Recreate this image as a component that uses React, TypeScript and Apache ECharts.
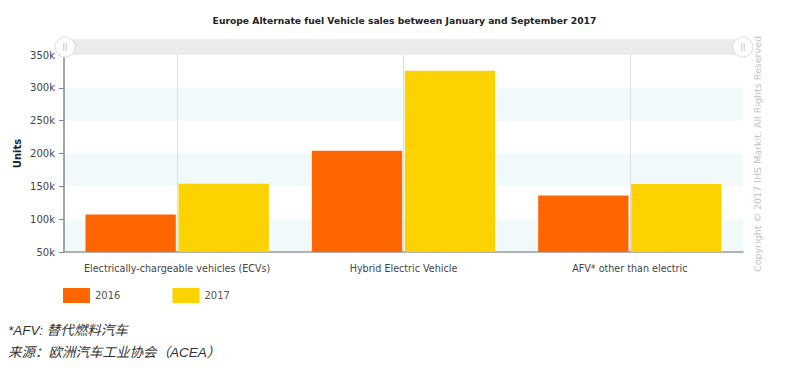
import React, { useEffect, useRef } from "react";
import * as echarts from "echarts";

const titleText = "Europe Alternate fuel Vehicle sales between January and September 2017";
const categories = [
  "Electrically-chargeable vehicles (ECVs)",
  "Hybrid Electric Vehicle",
  "AFV* other than electric",
];
const seriesNames = ["2016", "2017"];
const values2016 = [107000, 204000, 136000];
const values2017 = [154000, 326000, 153500];
const yMin = 50000;
const yMax = 350000;
const yStep = 50000;
const footnotes = ["*AFV: 替代燃料汽车", "来源：欧洲汽车工业协会（ACEA）"];
const copyright = "Copyright © 2017 IHS Markit. All Rights Reserved";

const chartFont = "'DejaVu Sans', Verdana, sans-serif";

export default function App() {
  const ref = useRef<HTMLDivElement>(null);
  useEffect(() => {
    document.body.style.margin = "0";
    const chart = echarts.init(ref.current!, null, { renderer: "svg" });
    const handle = (cx: number) => ({
      type: "group",
      children: [
        {
          type: "circle",
          shape: { cx, cy: 47, r: 10 },
          style: { fill: "#fff", stroke: "#dddddd", lineWidth: 1 },
          z: 10,
        },
        {
          type: "line",
          shape: { x1: cx - 1.2, y1: 43, x2: cx - 1.2, y2: 51 },
          style: { stroke: "#c8c8c8", lineWidth: 1 },
          z: 11,
        },
        {
          type: "line",
          shape: { x1: cx + 1.2, y1: 43, x2: cx + 1.2, y2: 51 },
          style: { stroke: "#c8c8c8", lineWidth: 1 },
          z: 11,
        },
      ],
    });
    chart.setOption({
      animation: false,
      textStyle: { fontFamily: chartFont },
      title: {
        text: titleText,
        left: 399.5,
        textAlign: "center",
        top: 11,
        textStyle: { fontSize: 9.2, fontWeight: "bold", color: "#222", fontFamily: chartFont },
      },
      legend: {
        left: 58,
        top: 283,
        itemWidth: 27,
        itemHeight: 15,
        itemGap: 52,
        icon: "rect",
        data: seriesNames,
        textStyle: { fontSize: 10, color: "#555", fontFamily: chartFont },
      },
      grid: { left: 64, right: 57, top: 55, bottom: 120, containLabel: false },
      xAxis: {
        type: "category",
        data: categories,
        axisLine: { lineStyle: { color: "#999", width: 1.5 } },
        axisTick: { alignWithLabel: true, length: 4, lineStyle: { color: "#777" } },
        axisLabel: { fontSize: 9.6, color: "#444", margin: 11, interval: 0 },
        splitLine: { show: true, alignWithLabel: true, lineStyle: { color: "#dedede", width: 1 } },
      },
      yAxis: {
        type: "value",
        min: yMin,
        max: yMax,
        interval: yStep,
        name: "Units",
        nameLocation: "middle",
        nameRotate: 90,
        nameGap: 42,
        nameMoveOverlap: false,
        nameTextStyle: { fontSize: 10, fontWeight: "bold", color: "#222" },
        axisLine: { show: true, lineStyle: { color: "#888", width: 1.5 } },
        axisTick: { show: true, length: 5, lineStyle: { color: "#888" } },
        axisLabel: { fontSize: 10, color: "#444", margin: 9, formatter: (v: number) => v / 1000 + "k" },
        splitLine: { show: false },
        splitArea: { show: true, areaStyle: { color: ["#f1f9fa", "#ffffff"] } },
      },
      series: [
        {
          name: seriesNames[0],
          type: "bar",
          data: values2016,
          barGap: "3%",
          barCategoryGap: "19%",
          itemStyle: { color: "#ff6600" },
        },
        {
          name: seriesNames[1],
          type: "bar",
          data: values2017,
          itemStyle: { color: "#fcd200" },
        },
      ],
      graphic: [
        {
          type: "rect",
          shape: { x: 64, y: 39, width: 680, height: 16 },
          style: { fill: "#ebebeb" },
          z: 5,
        },
        handle(65),
        handle(743),
        {
          type: "text",
          x: 762,
          y: 272,
          rotation: Math.PI / 2,
          style: {
            text: copyright,
            fontSize: 9.5,
            fill: "#c4c4c4",
            fontFamily: chartFont,
            textAlign: "left",
            textVerticalAlign: "bottom",
          },
        },
        {
          type: "text",
          x: 8,
          y: 330,
          style: {
            text: footnotes[0],
            fontSize: 13.5,
            fontStyle: "italic",
            fill: "#333",
            fontFamily: "'Liberation Sans', 'Noto Sans CJK SC', sans-serif",
            textVerticalAlign: "middle",
          },
        },
        {
          type: "text",
          x: 8,
          y: 352,
          style: {
            text: footnotes[1],
            fontSize: 13.5,
            fontStyle: "italic",
            fill: "#333",
            fontFamily: "'Liberation Sans', 'Noto Sans CJK SC', sans-serif",
            textVerticalAlign: "middle",
          },
        },
      ],
    });
    return () => chart.dispose();
  }, []);
  return (
    <div
      ref={ref}
      style={{ position: "absolute", left: 0, top: 0, width: 800, height: 372, background: "#fff" }}
    />
  );
}
